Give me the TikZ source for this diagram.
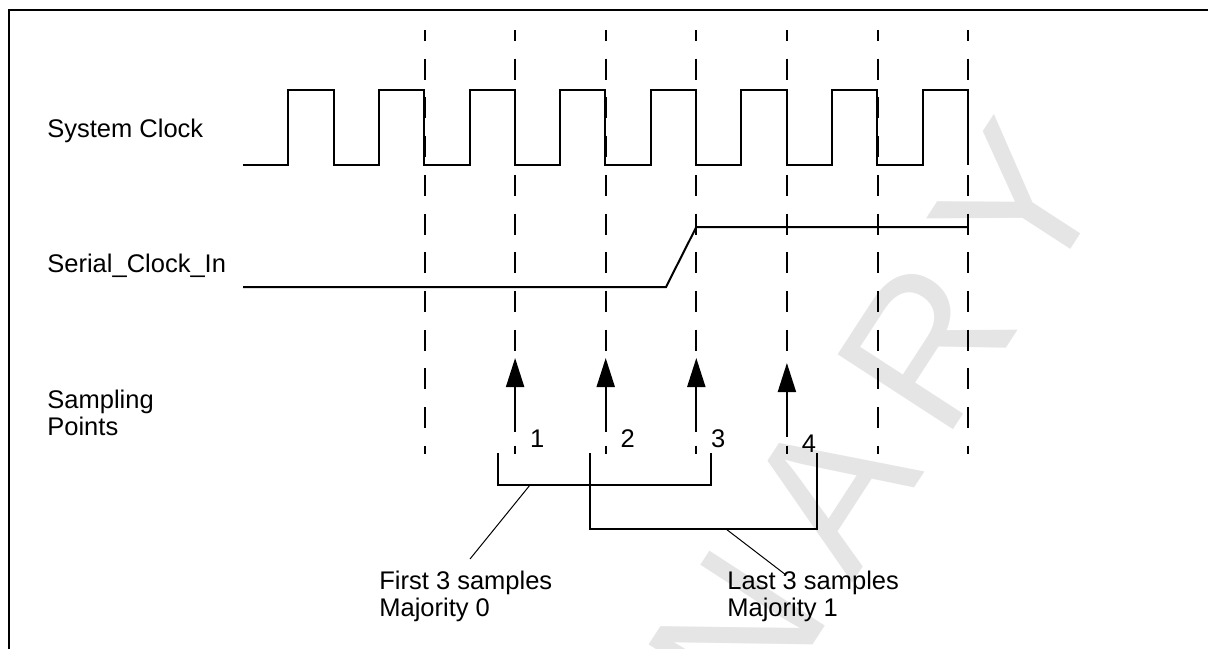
\documentclass[tikz,border=0pt]{standalone}
\usepackage{fontspec}
\setmainfont{Liberation Sans}
\newfontfamily\marcaagua[LetterSpace=17]{Liberation Sans}
\usetikzlibrary{arrows.meta}
\tikzset{
  senal/.style={line width=1pt},
  guia/.style={line width=1pt, dash pattern=on 10.5pt off 8.85pt, dash phase=5pt},
  muestra/.style={line width=1pt, -{Triangle[length=14.5pt,width=9pt]}},
  rotulo/.style={inner sep=0pt, anchor=base west, align=left},
  nota/.style={line width=0.5pt}
}
\begin{document}
\begin{tikzpicture}[x=0.5pt,y=-0.5pt,font=\fontsize{12.75}{13.25}\selectfont]
    \useasboundingbox (0,0) rectangle (1208,648);
    % Marca de agua
    \node[rotate=57, anchor=base west, inner sep=0pt, text=black!10,
          font=\marcaagua\fontsize{100}{100}\selectfont] (marca) at (190,1604.6) {PRELIMINARY};
    % Marco
    \draw[senal] (9,660) -- (9,10) -- (1220,10);
    % Lineas guia
    \foreach \i in {0,...,6} {
        \coordinate (g\i) at (424.5+90.6*\i,30);
        \draw[guia] (g\i) -- ++(0,424);
    }
    % Reloj del sistema
    \node[rotulo] (reloj) at (47,137) {System Clock};
    \draw[senal] (243,165) foreach \k in {0,...,7} { -- ++(45.3,0) -- ++(0,-75) -- ++(45.3,0) -- ++(0,75) };
    % Entrada serie
    \node[rotulo] (serie) at (47,272) {Serial\_Clock\_In};
    \draw[senal] (243,287) -- (666,287) -- (696.3,227) -- (968,227);
    % Puntos de muestreo
    \node[rotulo] (puntos) at (47,435) {Sampling\\Points};
    \foreach \i/\d in {1/0,2/0,3/0,4/5} {
        \coordinate (m\i) at (424.5+90.6*\i,432+\d);
        \draw[muestra] (m\i) -- ++(0,-74);
        \node[rotulo, anchor=base] (n\i) at (446.5+90.6*\i,447+\d) {\i};
    }
    % Grupos de tres muestras
    \draw[senal] (498,453) -- (498,485) -- (711,485) -- (711,453);
    \draw[senal] (590,453) -- (590,529) -- (817,529) -- (817,453);
    \coordinate (c1) at (530,485);
    \coordinate (c2) at (726,529);
    \coordinate (p1) at (470,559);
    \coordinate (p2) at (786,575);
    \draw[nota] (c1) -- (p1);
    \draw[nota] (c2) -- (p2);
    \node[rotulo] (primeras) at (379,616) {First 3 samples\\Majority 0};
    \node[rotulo] (ultimas) at (727,616) {Last 3 samples\\Majority 1};
\end{tikzpicture}
\end{document}
